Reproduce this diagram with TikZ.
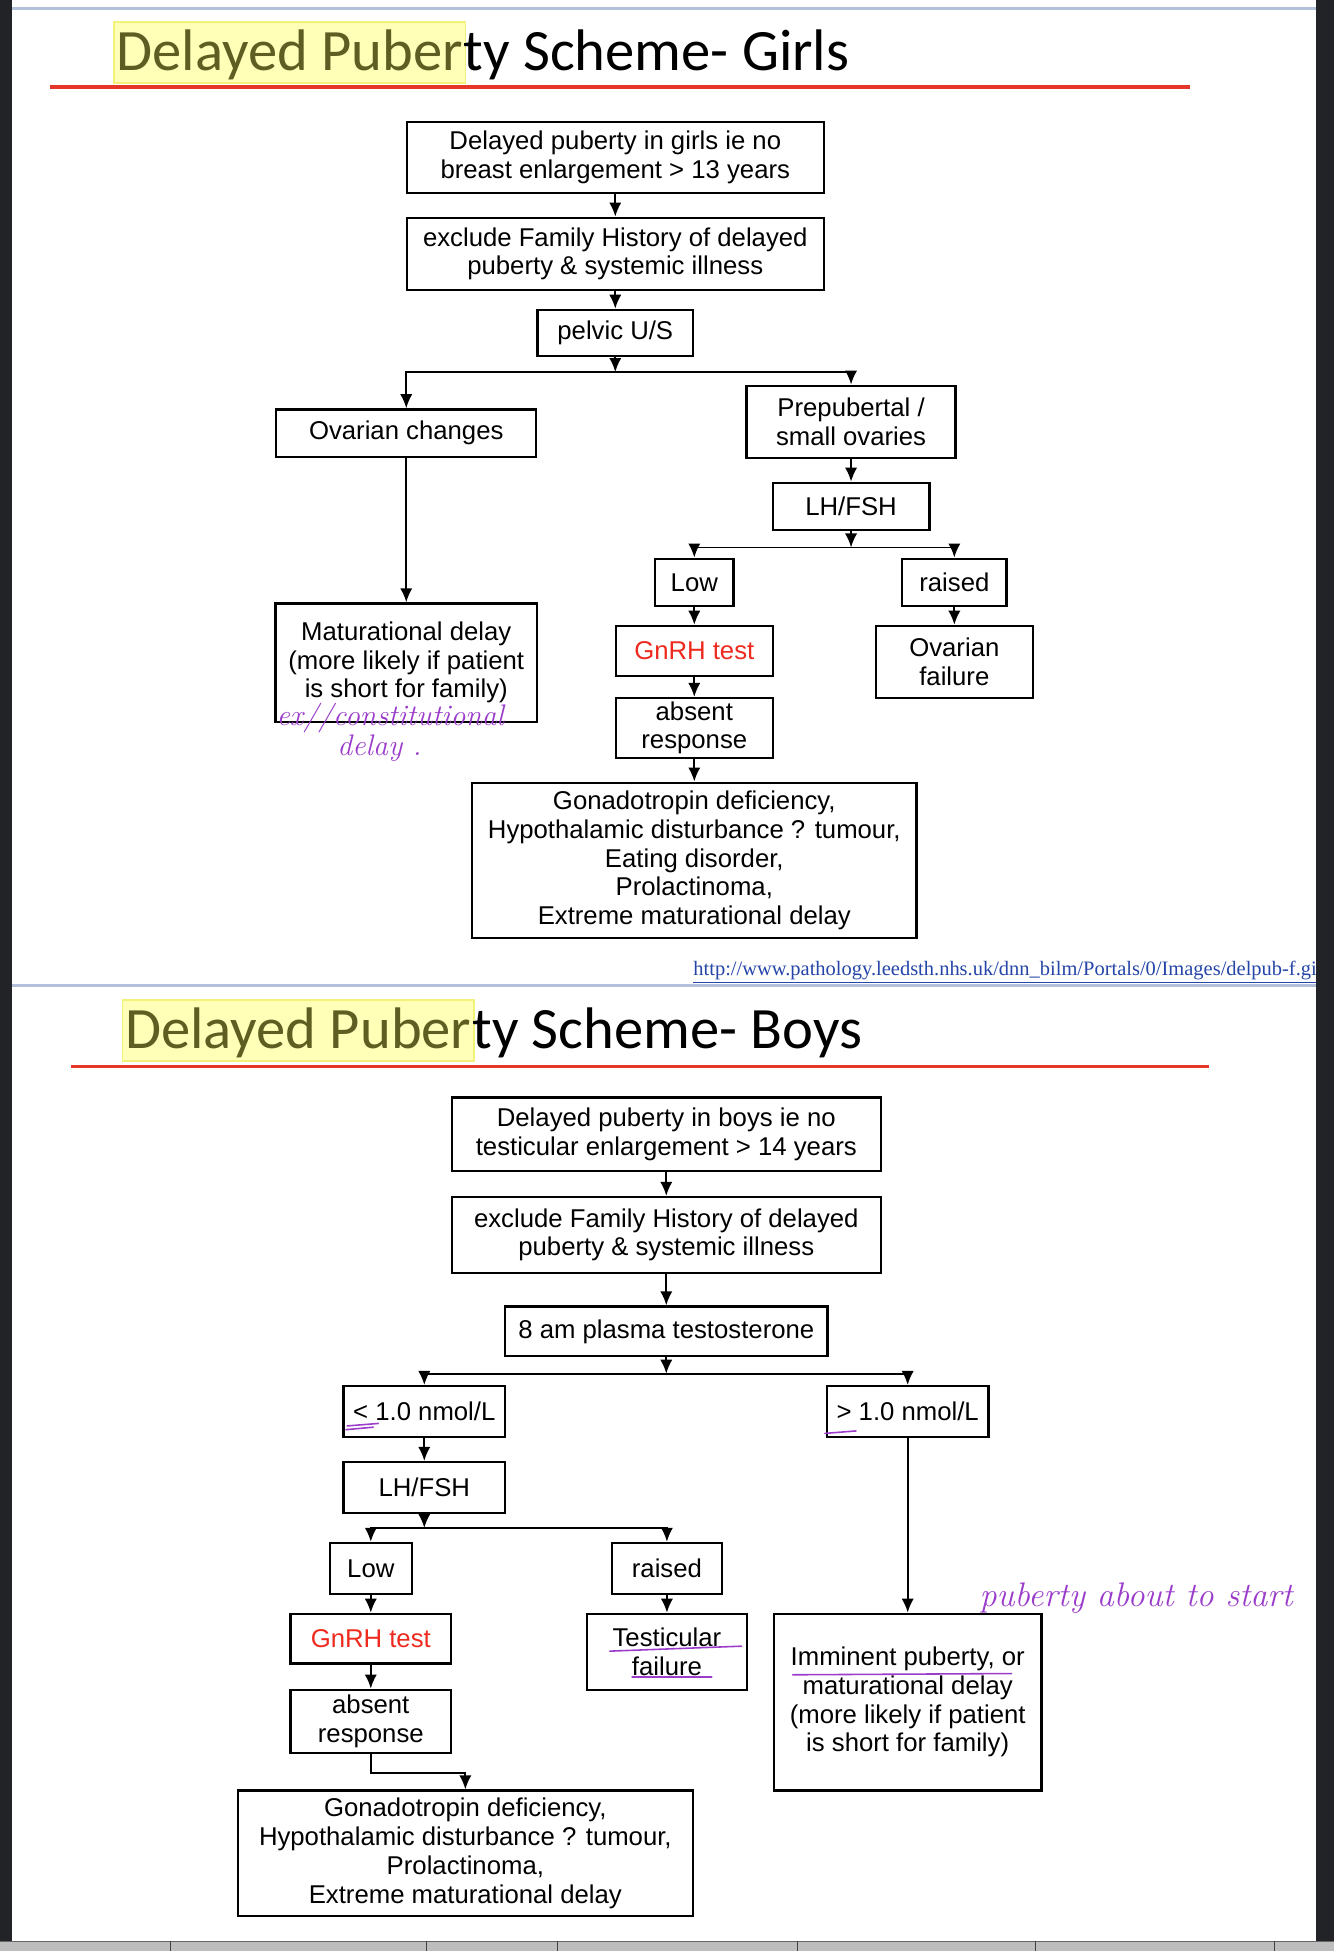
\documentclass[tikz,border=0pt]{standalone}
\usepackage{fontspec}
\usepackage{tikz}
\usetikzlibrary{arrows.meta}
\newfontfamily\arialfont{Liberation Sans}
\newfontfamily\calfont{Carlito}
\newfontfamily\timesfont{Liberation Serif}
\definecolor{pgred}{HTML}{E5362A}
\definecolor{hlyellow}{HTML}{FFFFB8}
\definecolor{hledge}{HTML}{F2F27A}
\definecolor{hlolive}{HTML}{5E5E22}
\definecolor{rulblue}{HTML}{B3C2DA}
\definecolor{penpurple}{HTML}{9B3CCB}
\definecolor{gnred}{HTML}{EE2A1F}
\definecolor{urlblue}{HTML}{2546A8}
\definecolor{framedark}{HTML}{222326}
\definecolor{barbg}{HTML}{BDBDBD}
\tikzset{
  wh/.style 2 args={minimum width=#1*0.025cm,minimum height=#2*0.025cm},
  box/.style={draw=black,line width=1.3pt,fill=white,align=center,inner sep=0pt,font=\arialfont\fontsize{14.7}{16.4}\selectfont},
  arr/.style={-{Latex[length=8pt,width=7pt]},line width=1.1pt},
  hl/.style={fill=hlyellow,draw=hledge,line width=0.8pt,text=hlolive,inner xsep=1.5pt,inner ysep=0pt,text height=28pt,text depth=7pt,font=\calfont\fontsize{33.5}{40}\selectfont},
  ttl/.style={inner sep=0pt,font=\calfont\fontsize{33.5}{40}\selectfont},
  redrule/.style={draw=pgred,line width=2pt},
  bluerule/.style={draw=rulblue,line width=2pt},
  pen/.style={draw=penpurple,line width=0.9pt,line cap=round},
  hand/.style={text=penpurple,inner sep=0pt,font=\itshape\fontsize{17}{20}\selectfont},
}
\begin{document}
\begin{tikzpicture}[x=0.025cm,y=-0.025cm]
  \useasboundingbox (0,0) rectangle (1072,1568);
  \fill[white] (0,0) rectangle (1072,1568);
  \draw[bluerule] (10,7) -- (1058,7);
  \draw[bluerule] (10,792) -- (1058,792);

  % girls
  \node[hl,anchor=north west] (t1a) at (91,17) {Delayed Puber};
  \node[ttl,anchor=base west,xshift=-1.5pt] (t1b) at (t1a.base east) {ty Scheme- Girls};
  \draw[redrule] (40,70) -- (956,70);

  \node[box,wh={335}{57}] (b1) at (494.5,126.5) {Delayed puberty in girls ie no\\breast enlargement > 13 years};
  \node[box,wh={335}{58}] (b2) at (494.5,204) {exclude Family History of delayed\\puberty \& systemic illness};
  \node[box,wh={125}{37}] (b3) at (494.5,267.5) {pelvic U/S};
  \node[box,wh={209}{38}] (ov) at (326.5,348) {Ovarian changes};
  \node[box,wh={168}{58}] (pre) at (684,339) {Prepubertal /\\small ovaries};
  \node[box,wh={126}{38}] (lh) at (684,407) {LH/FSH};
  \node[box,wh={63}{38}] (low) at (558,468) {Low};
  \node[box,wh={84}{38}] (rai) at (767,468) {raised};
  \node[box,wh={126}{40},text=gnred] (gn) at (558,523) {GnRH test};
  \node[box,wh={126}{58}] (ovf) at (767,532) {Ovarian\\failure};
  \node[box,wh={126}{48}] (abs) at (558,585) {absent\\response};
  \node[box,wh={357}{125}] (gon) at (558,691.5) {Gonadotropin deficiency,\\Hypothalamic disturbance ? tumour,\\Eating disorder,\\Prolactinoma,\\Extreme maturational delay};
  \node[box,wh={210}{95}] (mat) at (326.5,532.5) {Maturational delay\\(more likely if patient\\is short for family)};

  \coordinate (j1) at (494.5,299);
  \coordinate (j2) at (684,440);
  \draw[arr] (b1) -- (b2);
  \draw[arr] (b2) -- (b3);
  \draw[arr] (b3) -- (j1);
  \draw[arr] (j1) -| (ov);
  \draw[arr] (j1) -| (pre);
  \draw[arr] (ov) -- (mat);
  \draw[arr] (pre) -- (lh);
  \draw[arr] (lh) -- (j2);
  \draw[arr] (j2) -| (low);
  \draw[arr] (j2) -| (rai);
  \draw[arr] (low) -- (gn);
  \draw[arr] (gn) -- (abs);
  \draw[arr] (abs) -- (gon);
  \draw[arr] (rai) -- (ovf);

  \node[hand,anchor=west] (h1) at (222,577) {ex//constitutional};
  \node[hand] (h2) at (305,601) {delay .};

  \node[anchor=base west,inner sep=0pt,text=urlblue,font=\timesfont\fontsize{11.7}{14}\selectfont] (url) at (557,784) {\underline{http://www.pathology.leedsth.nhs.uk/dnn\_bilm/Portals/0/Images/delpub-f.gif}};

  % boys
  \node[hl,anchor=north west] (t2a) at (98,803) {Delayed Puber};
  \node[ttl,anchor=base west,xshift=-1.5pt] (t2b) at (t2a.base east) {ty Scheme- Boys};
  \draw[redrule] (57,857) -- (972,857);

  \node[box,wh={345}{59}] (c1) at (535.5,911.5) {Delayed puberty in boys ie no\\testicular enlargement > 14 years};
  \node[box,wh={345}{61}] (c2) at (535.5,992.5) {exclude Family History of delayed\\puberty \& systemic illness};
  \node[box,wh={259}{40}] (c3) at (535.5,1070) {8 am plasma testosterone};
  \node[box,wh={130}{41}] (lt) at (341,1134.5) {< 1.0 nmol/L};
  \node[box,wh={130}{41}] (gt) at (729.5,1134.5) {> 1.0 nmol/L};
  \node[box,wh={130}{41}] (lh2) at (341,1195.5) {LH/FSH};
  \node[box,wh={66}{41}] (low2) at (298,1260.5) {Low};
  \node[box,wh={88}{41}] (rai2) at (536,1260.5) {raised};
  \node[box,wh={129}{40},text=gnred] (gn2) at (298,1317) {GnRH test};
  \node[box,wh={129}{61}] (tf) at (536,1327.5) {Testicular\\failure};
  \node[box,wh={129}{51}] (abs2) at (298,1383.5) {absent\\response};
  \node[box,wh={366}{101}] (gon2) at (374,1489.5) {Gonadotropin deficiency,\\Hypothalamic disturbance ? tumour,\\Prolactinoma,\\Extreme maturational delay};
  \node[box,wh={215}{142}] (imm) at (729.5,1368) {Imminent puberty, or\\maturational delay\\(more likely if patient\\is short for family)};

  \coordinate (j3) at (535.5,1104);
  \coordinate (j4) at (341,1228);
  \coordinate (k1) at (298,1425);
  \draw[arr] (c1) -- (c2);
  \draw[arr] (c2) -- (c3);
  \draw[arr] (c3) -- (j3);
  \draw[arr] (j3) -| (lt);
  \draw[arr] (j3) -| (gt);
  \draw[arr] (lt) -- (lh2);
  \draw[arr] (lh2) -- (j4);
  \draw[arr] (j4) -| (low2);
  \draw[arr] (j4) -| (rai2);
  \draw[arr] (low2) -- (gn2);
  \draw[arr] (gn2) -- (abs2);
  \draw[arr] (abs2) -- (k1) -| (gon2);
  \draw[arr] (rai2) -- (tf);
  \draw[arr] (gt) -- (imm);

  \node[hand,anchor=west,font=\itshape\fontsize{19.5}{22}\selectfont] (h3) at (787,1284) {puberty about to start};
  \draw[pen] (490,1327) -- (596,1323);
  \draw[pen] (508,1348) -- (572,1348);
  \draw[pen] (637,1346) -- (813,1345);
  \draw[pen] (279,1146) -- (304,1144) (278,1149) -- (300,1147);
  \draw[pen] (663,1152) -- (688,1150);

  % window frame
  \fill[framedark] (0,0) rectangle (10,1560);
  \fill[framedark] (1058,0) rectangle (1072,1560);
  \fill[barbg] (0,1560) rectangle (1072,1568);
  \draw[black!60,line width=0.5pt] (0,1560) -- (1072,1560);
  \foreach \x in {137,343,448,641,832,1024}
    \draw[black!75,line width=0.6pt] (\x,1560) -- (\x,1568);
\end{tikzpicture}
\end{document}
